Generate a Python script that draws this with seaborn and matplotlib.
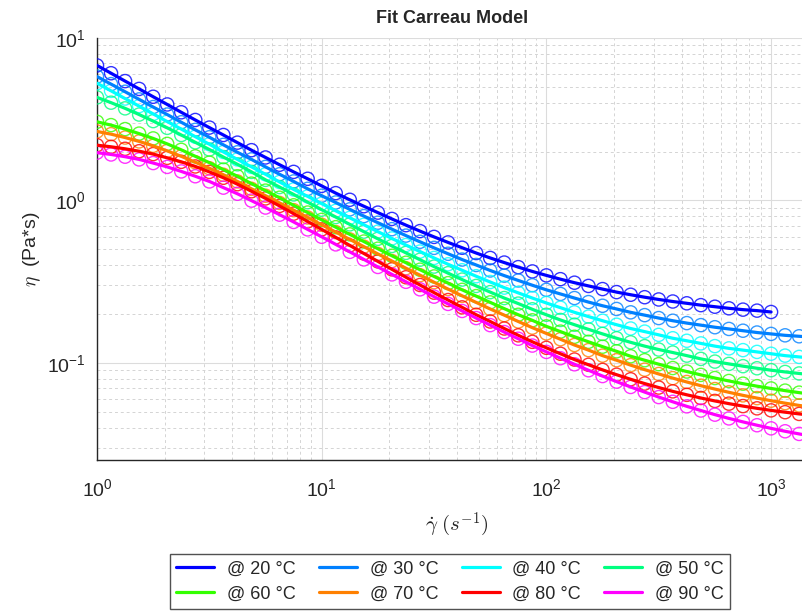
import numpy as np
import pandas as pd
import matplotlib
matplotlib.use("Agg")
import matplotlib.pyplot as plt
import matplotlib.ticker as mticker
import seaborn as sns

# =====================
# Data
# =====================
temps = [20, 30, 40, 50, 60, 70, 80, 90]
colors = ["#0000ff", "#0080ff", "#00ffff", "#00ff80", "#33ff00", "#ff8000", "#ff0000", "#ff00ff"]

# shear rate grids (1/s), 16 points per decade
rate_20 = np.logspace(0, 3, 49)
rate_hi = np.logspace(0, 3.25, 53)

# viscosity (Pa*s)
eta_20 = [6.78, 6.07, 5.43, 4.86, 4.35, 3.9, 3.49, 3.13, 2.81, 2.53, 2.27, 2.04, 1.84, 1.66, 1.5, 1.36,
          1.23, 1.11, 1.01, 0.922, 0.842, 0.77, 0.705, 0.648, 0.597, 0.552, 0.512, 0.475, 0.443, 0.415,
          0.389, 0.366, 0.346, 0.328, 0.312, 0.298, 0.285, 0.273, 0.263, 0.254, 0.246, 0.239, 0.233,
          0.227, 0.222, 0.217, 0.213, 0.21, 0.206]
eta_30 = [5.79, 5.2, 4.67, 4.19, 3.76, 3.38, 3.03, 2.72, 2.45, 2.2, 1.98, 1.79, 1.61, 1.45, 1.31, 1.18,
          1.07, 0.972, 0.882, 0.802, 0.73, 0.666, 0.608, 0.557, 0.511, 0.47, 0.433, 0.401, 0.371, 0.345,
          0.322, 0.301, 0.282, 0.266, 0.251, 0.237, 0.225, 0.215, 0.205, 0.197, 0.189, 0.182, 0.176,
          0.171, 0.166, 0.162, 0.158, 0.154, 0.151, 0.148, 0.146, 0.144, 0.142]
eta_40 = [5.27, 4.73, 4.24, 3.81, 3.41, 3.06, 2.75, 2.47, 2.22, 1.99, 1.79, 1.61, 1.45, 1.3, 1.17, 1.06,
          0.956, 0.864, 0.782, 0.709, 0.643, 0.584, 0.532, 0.485, 0.443, 0.405, 0.372, 0.342, 0.315,
          0.291, 0.27, 0.251, 0.234, 0.219, 0.205, 0.193, 0.182, 0.172, 0.163, 0.156, 0.149, 0.142,
          0.137, 0.132, 0.127, 0.123, 0.12, 0.117, 0.114, 0.111, 0.109, 0.107, 0.105]
eta_50 = [4.31, 4.0, 3.69, 3.38, 3.08, 2.8, 2.53, 2.28, 2.06, 1.85, 1.67, 1.5, 1.34, 1.21, 1.09, 0.976,
          0.878, 0.791, 0.713, 0.643, 0.581, 0.525, 0.476, 0.432, 0.392, 0.357, 0.326, 0.298, 0.273,
          0.251, 0.232, 0.214, 0.198, 0.184, 0.172, 0.161, 0.151, 0.142, 0.134, 0.127, 0.121, 0.116,
          0.111, 0.106, 0.102, 0.0987, 0.0956, 0.0928, 0.0903, 0.0881, 0.0862, 0.0844, 0.0828]
eta_60 = [3.05, 2.91, 2.75, 2.58, 2.41, 2.23, 2.05, 1.87, 1.71, 1.55, 1.41, 1.27, 1.15, 1.04, 0.934,
          0.843, 0.76, 0.685, 0.619, 0.559, 0.505, 0.457, 0.414, 0.375, 0.341, 0.31, 0.282, 0.258,
          0.236, 0.216, 0.198, 0.183, 0.168, 0.156, 0.145, 0.135, 0.126, 0.118, 0.11, 0.104, 0.0983,
          0.0931, 0.0886, 0.0845, 0.0808, 0.0775, 0.0746, 0.072, 0.0697, 0.0676, 0.0657, 0.064, 0.0626]
eta_70 = [2.66, 2.56, 2.44, 2.31, 2.17, 2.02, 1.87, 1.72, 1.58, 1.44, 1.31, 1.18, 1.07, 0.966, 0.872,
          0.786, 0.709, 0.639, 0.576, 0.52, 0.469, 0.424, 0.383, 0.347, 0.314, 0.285, 0.259, 0.236,
          0.215, 0.197, 0.18, 0.165, 0.152, 0.14, 0.129, 0.12, 0.111, 0.104, 0.097, 0.091, 0.0856,
          0.0807, 0.0764, 0.0725, 0.0691, 0.066, 0.0632, 0.0608, 0.0586, 0.0566, 0.0548, 0.0533, 0.0518]
eta_80 = [2.19, 2.14, 2.08, 2.01, 1.93, 1.83, 1.73, 1.62, 1.5, 1.38, 1.26, 1.14, 1.03, 0.926, 0.83,
          0.743, 0.664, 0.593, 0.529, 0.472, 0.422, 0.377, 0.337, 0.302, 0.271, 0.244, 0.22, 0.198,
          0.18, 0.163, 0.148, 0.135, 0.124, 0.114, 0.105, 0.0975, 0.0907, 0.0847, 0.0794, 0.0747,
          0.0706, 0.0669, 0.0637, 0.0609, 0.0584, 0.0562, 0.0543, 0.0526, 0.0511, 0.0498, 0.0486,
          0.0476, 0.0467]
eta_90 = [1.97, 1.92, 1.86, 1.79, 1.7, 1.61, 1.51, 1.41, 1.31, 1.2, 1.1, 0.998, 0.905, 0.818, 0.738,
          0.664, 0.598, 0.537, 0.483, 0.434, 0.39, 0.351, 0.316, 0.284, 0.256, 0.231, 0.209, 0.189,
          0.171, 0.155, 0.141, 0.128, 0.117, 0.107, 0.0982, 0.0902, 0.0831, 0.0768, 0.0712, 0.0662,
          0.0617, 0.0577, 0.0541, 0.051, 0.0481, 0.0456, 0.0434, 0.0414, 0.0396, 0.038, 0.0366,
          0.0353, 0.0342]

rates = [rate_20] + [rate_hi] * 7
etas = [eta_20, eta_30, eta_40, eta_50, eta_60, eta_70, eta_80, eta_90]

# =====================
# Plot
# =====================
sns.set_style("white")
plt.rcParams["font.family"] = ["Liberation Sans", "DejaVu Sans"]
plt.rcParams["mathtext.fontset"] = "cm"

fig = plt.figure(figsize=(8.03, 6.12), dpi=100)
ax = fig.add_axes([97 / 803, 152 / 612, 719 / 803, 422 / 612])
ax.set_xscale("log")
ax.set_yscale("log")

line_handles = []
for t, c, r, e in zip(temps, colors, rates, etas):
    d = pd.DataFrame({"rate": r, "eta": e})
    sns.scatterplot(data=d, x="rate", y="eta", ax=ax, marker="o", s=90,
                    facecolor="none", edgecolor=c, linewidth=1, alpha=0.8, zorder=3)
    sns.lineplot(data=d, x="rate", y="eta", ax=ax, color=c, linewidth=2.3,
                 estimator=None, sort=False, zorder=4)
    line_handles.append(ax.lines[-1])
if ax.get_legend() is not None:
    ax.get_legend().remove()

ax.set_xlim(1, 10 ** 3.2)
ax.set_ylim(10 ** -1.597, 10)
fmt = mticker.FuncFormatter(lambda v, p: r"$\mathregular{10^{%d}}$" % round(np.log10(v)))
ax.xaxis.set_major_formatter(fmt)
ax.yaxis.set_major_formatter(fmt)
ax.xaxis.set_minor_formatter(mticker.NullFormatter())
ax.yaxis.set_minor_formatter(mticker.NullFormatter())
ax.tick_params(which="both", direction="in", labelsize=14, colors="#262626")
ax.tick_params(which="major", length=5)
ax.tick_params(axis="x", which="major", pad=13)
ax.tick_params(axis="y", which="major", pad=8)
ax.tick_params(which="minor", length=3)
ax.grid(True, which="major", color="#dcdcdc", linewidth=0.8)
ax.grid(True, which="minor", color="#d4d4d4", linestyle=(0, (3, 3)), linewidth=0.7)
ax.set_axisbelow(True)
for s in ["top", "right"]:
    ax.spines[s].set_visible(False)
for s in ["left", "bottom"]:
    ax.spines[s].set_color("#262626")
    ax.spines[s].set_linewidth(1)

ax.set_title("Fit Carreau Model", fontsize=13, fontweight="bold", pad=11, x=0.494)
ax.set_xlabel(r"$\dot{\gamma}\ (s^{-1})$", fontsize=15, labelpad=8)
ax.set_ylabel(r"$\eta$  (Pa*s)", fontsize=14, labelpad=3)

# legend filled row by row
order = [0, 4, 1, 5, 2, 6, 3, 7]
fig.legend([line_handles[i] for i in order], ["@ %d °C" % temps[i] for i in order],
           ncol=4, loc="upper center", bbox_to_anchor=(450 / 803, 1 - 545 / 612),
           fontsize=13, frameon=True, fancybox=False, edgecolor="#262626", handlelength=2.1,
           columnspacing=1.3, handletextpad=0.7, borderpad=0.35, labelspacing=0.45)

fig.savefig("out.png", dpi=100)
